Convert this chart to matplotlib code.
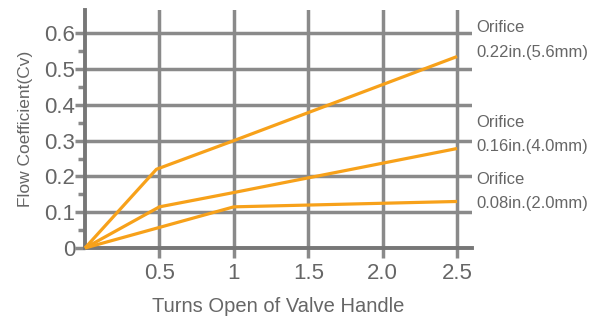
import matplotlib
matplotlib.use("Agg")
import matplotlib.pyplot as plt
from matplotlib.ticker import FixedLocator

plt.rcParams['font.family'] = ['Liberation Sans', 'DejaVu Sans']

# Data
x_large = [0, 0.48, 1.0, 2.5]
y_large = [0, 0.22, 0.30, 0.535]
x_mid = [0, 0.5, 1.0, 2.5]
y_mid = [0, 0.115, 0.155, 0.278]
x_small = [0, 1.0, 2.5]
y_small = [0, 0.115, 0.13]

labels = ["Orifice\n0.22in.(5.6mm)", "Orifice\n0.16in.(4.0mm)", "Orifice\n0.08in.(2.0mm)"]
label_y = [0.582, 0.317, 0.158]

xticks = [0.5, 1, 1.5, 2.0, 2.5]
xticklabels = ["0.5", "1", "1.5", "2.0", "2.5"]
yticks = [0, 0.1, 0.2, 0.3, 0.4, 0.5, 0.6]
yticklabels = ["0", "0.1", "0.2", "0.3", "0.4", "0.5", "0.6"]

line_color = "#F7A11A"
grid_color = "#8a8a8a"
text_color = "#666666"

fig = plt.figure(figsize=(5.92, 3.19), dpi=100)
ax = fig.add_axes([85/592, 1-248/319, (472-85)/592, (248-10)/319])
ax.set_xlim(0, 2.6)
ax.set_ylim(0, 0.665)

for s in ["top", "right"]:
    ax.spines[s].set_visible(False)
for s in ["left", "bottom"]:
    ax.spines[s].set_color("#777777")
    ax.spines[s].set_linewidth(2.8)

ax.set_xticks(xticks)
ax.set_xticklabels(xticklabels)
ax.set_yticks(yticks)
ax.set_yticklabels(yticklabels)
ax.yaxis.set_minor_locator(FixedLocator([0.05, 0.15, 0.25, 0.35, 0.45, 0.55]))
ax.tick_params(axis='both', which='major', labelsize=16, colors=grid_color,
               labelcolor=text_color, width=2.5, length=7, pad=3)
ax.tick_params(axis='y', which='major', pad=0)
ax.tick_params(axis='y', which='minor', colors=grid_color, width=2.5, length=5)
ax.tick_params(axis='x', pad=4)

ax.grid(True, which='major', color=grid_color, linewidth=2.5)
ax.set_axisbelow(True)

for xs, ys in [(x_large, y_large), (x_mid, y_mid), (x_small, y_small)]:
    ax.plot(xs, ys, color=line_color, linewidth=2.3, solid_capstyle='butt', zorder=3, clip_on=False)

for lab, ly in zip(labels, label_y):
    ax.text(2.63, ly, lab, fontsize=12, color=text_color, va='center', ha='left',
            linespacing=1.8, clip_on=False)

ax.set_xlabel("Turns Open of Valve Handle", fontsize=14.5, color=text_color, labelpad=9)
ax.set_ylabel("Flow Coefficient(Cv)", fontsize=12.5, color=text_color, labelpad=8)

fig.savefig("out.png", dpi=100)
